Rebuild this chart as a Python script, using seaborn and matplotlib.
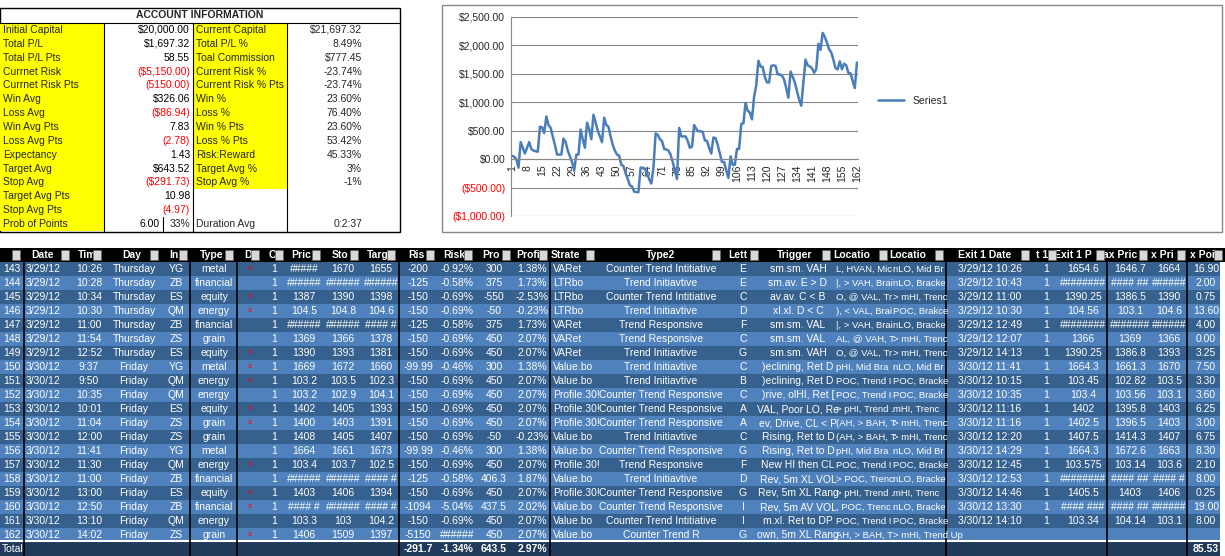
import matplotlib
matplotlib.use("Agg")
import matplotlib.pyplot as plt
import matplotlib.patches as mpatches
import matplotlib.ticker as mticker
import seaborn as sns
import pandas as pd

sns.set_style("white")
plt.rcParams['font.family'] = ['Liberation Sans', 'DejaVu Sans']

# ---- account information ----
left_labels = ["Initial Capital", "Total P/L", "Total P/L Pts", "Currnet Risk", "Currnet Risk Pts",
               "Win Avg", "Loss Avg", "Win Avg Pts", "Loss Avg Pts", "Expectancy", "Target Avg",
               "Stop Avg", "Target Avg Pts", "Stop Avg Pts", "Prob of Points"]
left_values = ["$20,000.00", "$1,697.32", "58.55", "($5,150.00)", "(5150.00)", "$326.06", "($86.94)",
               "7.83", "(2.78)", "1.43", "$643.52", "($291.73)", "10.98", "(4.97)", "6.00"]
right_labels = ["Current Capital", "Total P/L %", "Toal Commission", "Current Risk %", "Current Risk % Pts",
                "Win %", "Loss %", "Win % Pts", "Loss % Pts", "Risk:Reward", "Target Avg %", "Stop Avg %"]
right_values = ["$21,697.32", "8.49%", "$777.45", "-23.74%", "-23.74%", "23.60%", "76.40%", "23.60%",
                "53.42%", "45.33%", "3%", "-1%"]

# ---- equity curve (cumulative P/L per trade) ----
equity = [60, 40, 0, -150, 300, 200, 100, 200, 300, 180, 150, 140, 130, 570, 560, 460, 750, 600, 550, 400,
          250, 80, 80, 80, 360, 300, 150, 50, -50, -200, 80, 80, 520, 350, 200, 640, 530, 350, 780, 650,
          500, 400, 300, 730, 600, 570, 400, 250, 150, 80, 60, -100, -120, -250, -350, -460, -480, -570, -580, -580,
          -150, -150, -170, -250, -350, -430, -150, 450, 430, 350, 320, 180, 170, 150, 80, -50, -200, -350, 550, 400,
          400, 400, 320, 200, 220, 600, 530, 490, 490, 480, 330, 320, 200, 100, 380, 370, 250, 100, -50, -50,
          -200, -330, 50, -100, -100, 180, 180, 620, 630, 990, 850, 820, 700, 1100, 1300, 1730, 1630, 1620, 1450, 1350,
          1350, 1640, 1650, 1640, 1490, 1490, 1470, 1400, 1250, 1080, 1540, 1450, 1350, 1200, 1050, 940, 1350, 1750, 1650, 1630,
          1600, 1520, 1580, 2030, 1920, 2220, 2150, 2050, 1930, 1880, 1750, 1600, 1580, 1720, 1580, 1680, 1650, 1520, 1510, 1380,
          1250, 1700]

# ---- trade log ----
trade_no = list(range(143, 163))
dates = ["3/29/12"] * 7 + ["3/30/12"] * 13
times = ["10:26", "10:28", "10:34", "10:30", "11:00", "11:54", "12:52", "9:37", "9:50", "10:35", "10:01",
         "11:04", "12:00", "11:41", "11:30", "11:00", "13:00", "12:50", "13:10", "14:02"]
days = ["Thursday"] * 7 + ["Friday"] * 13
instr = ["YG", "ZB", "ES", "QM", "ZB", "ZS", "ES", "YG", "QM", "QM", "ES", "ZS", "ZS", "YG", "QM", "ZB", "ES", "ZB", "QM", "ZS"]
types = ["metal", "financial", "equity", "energy", "financial", "grain", "equity", "metal", "energy", "energy",
         "equity", "grain", "grain", "metal", "energy", "financial", "equity", "financial", "energy", "grain"]
direction = ["s", "", "s", "s", "", "", "s", "s", "s", "", "s", "s", "", "", "s", "", "s", "s", "", "s"]
price = ["#####", "######", "1387", "104.5", "######", "1369", "1390", "1669", "103.2", "103.2", "1402", "1400",
         "1408", "1664", "103.4", "######", "1403", "#### #", "103.3", "1406"]
stop = ["1670", "######", "1390", "104.8", "######", "1366", "1393", "1672", "103.5", "102.9", "1405", "1403",
        "1405", "1661", "103.7", "######", "1406", "######", "103", "1509"]
target = ["1655", "######", "1398", "104.6", "#### #", "1378", "1381", "1660", "102.3", "104.1", "1393", "1391",
          "1407", "1673", "102.5", "#### #", "1394", "#### #", "104.2", "1397"]
risk = ["-200", "-125", "-150", "-150", "-125", "-150", "-150", "-99.99", "-150", "-150", "-150", "-150", "-150",
        "-99.99", "-150", "-125", "-150", "-1094", "-150", "-5150"]
risk_pct = ["-0.92%", "-0.58%", "-0.69%", "-0.69%", "-0.58%", "-0.69%", "-0.69%", "-0.46%", "-0.69%", "-0.69%",
            "-0.69%", "-0.69%", "-0.69%", "-0.46%", "-0.69%", "-0.58%", "-0.69%", "-5.04%", "-0.69%", "######"]
profit = ["300", "375", "-550", "-50", "375", "450", "450", "300", "450", "450", "450", "450", "-50", "300",
          "450", "406.3", "450", "437.5", "450", "450"]
profit_pct = ["1.38%", "1.73%", "-2.53%", "-0.23%", "1.73%", "2.07%", "2.07%", "1.38%", "2.07%", "2.07%", "2.07%",
              "2.07%", "-0.23%", "1.38%", "2.07%", "1.87%", "2.07%", "2.02%", "2.07%", "2.07%"]
strategy = ["VARet", "LTRbo", "LTRbo", "LTRbo", "VARet", "VARet", "VARet", "Value.bo", "Value.bo", "Profile.30!",
            "Profile.30!", "Profile.30!", "Value.bo", "Value.bo", "Profile.30!", "Value.bo", "Profile.30!",
            "Value.bo", "Value.bo", "Value.bo"]
type2 = ["Counter Trend Intitiative", "Trend Initiavtive", "Counter Trend Intitiative", "Trend Initiavtive",
         "Trend Responsive", "Trend Responsive", "Trend Initiavtive", "Trend Initiavtive", "Trend Initiavtive",
         "Counter Trend Responsive", "Counter Trend Responsive", "Counter Trend Responsive", "Trend Initiavtive",
         "Counter Trend Responsive", "Trend Responsive", "Trend Initiavtive", "Counter Trend Responsive",
         "Counter Trend Responsive", "Counter Trend Intitiative", "Counter Trend R"]
letter = ["E", "E", "C", "D", "F", "C", "G", "C", "B", "C", "A", "A", "C", "G", "F", "D", "G", "I", "I", "G"]
trigger = ["sm.sm. VAH", "sm.av. E > D", "av.av. C < B", "xl.xl. D < C", "sm.sm. VAL", "sm.sm. VAL", "sm.sm. VAH",
           ")eclining, Ret D", ")eclining, Ret D", ")rive, olHI, Ret [", "VAL, Poor LO, Re", "ev, Drive, CL < P",
           "Rising, Ret to D", "Rising, Ret to D", "New HI then CL", "Rev, 5m XL VOL", "Rev, 5m XL Rang",
           "Rev, 5m AV VOL", "m.xl. Ret to DP", "own, 5m XL Rang"]
location1 = ["L, HVAN, Mic", "|, > VAH, Brai", "O, @ VAL, Tr", "), < VAL, Brai", "|, > VAH, Brai", "AL, @ VAH, T",
             "O, @ VAL, Tr", "pHI, Mid Bra", "POC, Trend I", "POC, Trend I", "> pHI, Trend .", "(AH, > BAH, T",
             "(AH, > BAH, T", "pHI, Mid Bra", "POC, Trend I", "> POC, Trenc", "> pHI, Trend .", ", POC, Trenc",
             "POC, Trend I", "AH, > BAH, T"]
location2 = ["nLO, Mid Br", "nLO, Bracke", "> mHI, Trenc", "POC, Brakce", "nLO, Bracke", "> mHI, Trenc",
             "> mHI, Trenc", "nLO, Mid Br", "POC, Bracke", "POC, Bracke", "mHI, Trenc", "> mHI, Trenc",
             "> mHI, Trenc", "nLO, Mid Br", "POC, Bracke", "nLO, Bracke", "mHI, Trenc", "nLO, Bracke",
             "POC, Bracke", "> mHI, Trend Up"]
exit_date = ["3/29/12 10:26", "3/29/12 10:43", "3/29/12 11:00", "3/29/12 10:30", "3/29/12 12:49", "3/29/12 12:07",
             "3/29/12 14:13", "3/30/12 11:41", "3/30/12 10:15", "3/30/12 10:35", "3/30/12 11:16", "3/30/12 11:16",
             "3/30/12 12:20", "3/30/12 14:29", "3/30/12 12:45", "3/30/12 12:53", "3/30/12 14:46", "3/30/12 13:30",
             "3/30/12 14:10", ""]
exit_price = ["1654.6", "########", "1390.25", "104.56", "########", "1366", "1390.25", "1664.3", "103.45", "103.4",
              "1402", "1402.5", "1407.5", "1664.3", "103.575", "########", "1405.5", "#### ###", "103.34", ""]
max_price = ["1646.7", "#### ##", "1386.5", "103.1", "#######", "1369", "1386.8", "1661.3", "102.82", "103.56",
             "1395.8", "1396.5", "1414.3", "1672.6", "103.14", "#### ##", "1403", "#### ##", "104.14", ""]
x_price = ["1664", "######", "1390", "104.6", "######", "1366", "1393", "1670", "103.5", "103.1", "1403", "1403",
           "1407", "1663", "103.6", "#### #", "1406", "######", "103.1", ""]
points = ["16.90", "2.00", "0.75", "13.60", "4.00", "0.00", "3.25", "7.50", "3.30", "3.60", "6.25", "3.00", "6.75",
          "8.30", "2.10", "8.00", "0.25", "19.00", "8.00", ""]
headers = [(43, "Date"), (87, "Tim"), (132, "Day"), (174, "In"), (212, "Type"), (248, "D"), (272, "C"),
           (301, "Pric"), (340, "Sto"), (378, "Targ"), (416, "Ris"), (454, "Risk"), (491, "Pro"), (528, "Profi"),
           (565, "Strate"), (661, "Type2"), (738, "Lett"), (795, "Trigger"), (852, "Locatio"), (908, "Locatio"),
           (985, "Exit 1 Date"), (1042, "t 1"), (1073, "Exit 1 P"), (1120, "ax Pric"), (1162, "x Pri"), (1202, "x Poi")]
buttons = [16, 65, 97, 154, 183, 229, 255, 279, 316, 354, 391, 430, 468, 506, 543, 590,
           716, 754, 826, 883, 939, 1025, 1052, 1100, 1143, 1181, 1218]

W, H = 1225, 556
fig = plt.figure(figsize=(W / 100, H / 100), dpi=100)
bg = fig.add_axes([0, 0, 1, 1])
bg.set_xlim(0, W)
bg.set_ylim(H, 0)
bg.axis("off")

FS = 7.5
YELLOW = "#FFFF00"

# account information block
bg.add_patch(mpatches.Rectangle((0, 8), 400, 224, fc="white", ec="black", lw=1))
bg.text(200, 15, "ACCOUNT INFORMATION", ha="center", va="center", fontsize=FS, fontweight="bold")
row_h = 13.86
for i in range(15):
    yc = 30 + i * row_h
    bg.add_patch(mpatches.Rectangle((0, yc - row_h / 2), 104, row_h, fc=YELLOW, ec="none"))
    bg.text(3, yc, left_labels[i], ha="left", va="center", fontsize=FS)
    col = "red" if left_values[i].startswith("(") else "black"
    x_val = 160 if i == 14 else 190
    bg.text(x_val, yc, left_values[i], ha="right", va="center", fontsize=FS, color=col)
    if i < len(right_labels):
        bg.add_patch(mpatches.Rectangle((193, yc - row_h / 2), 94, row_h, fc=YELLOW, ec="none"))
        bg.text(196, yc, right_labels[i], ha="left", va="center", fontsize=FS)
        bg.text(362, yc, right_values[i], ha="right", va="center", fontsize=FS)
yl = 30 + 14 * row_h
bg.text(190, yl, "33%", ha="right", va="center", fontsize=FS)
bg.plot([163, 163], [yl - row_h / 2, yl + row_h / 2], color="black", lw=0.8)
bg.text(196, yl, "Duration Avg", ha="left", va="center", fontsize=FS)
bg.text(362, yl, "0:2:37", ha="right", va="center", fontsize=FS)
for xv in (104, 193, 287):
    bg.plot([xv, xv], [23, 232], color="black", lw=0.8)
bg.plot([0, 400], [23, 23], color="black", lw=0.8)

# chart frame
bg.add_patch(mpatches.Rectangle((442, 5), 780, 227, fc="white", ec="#888888", lw=1))

# trade log
DARK, LIGHT, TOTAL = "#36608E", "#4F81BD", "#1F3A5A"
bg.add_patch(mpatches.Rectangle((0, 248), W, 14, fc="black", ec="none"))
for xh, lab in headers:
    bg.text(xh, 255, lab, ha="center", va="center", fontsize=FS, color="white", fontweight="bold")
for xb in buttons:
    bg.add_patch(mpatches.Rectangle((xb - 4, 250), 8, 10, fc="#D8D8D8", ec="#666666", lw=0.5, zorder=3))
for i in range(20):
    yc = 269 + i * 14
    bg.add_patch(mpatches.Rectangle((0, yc - 7), W - 5, 14, fc=DARK if i % 2 == 0 else LIGHT, ec="none"))
    cells = [(12, trade_no[i]), (43, dates[i]), (89, times[i]), (134, days[i]), (176, instr[i]), (214, types[i]),
             (274, "1"), (304, price[i]), (343, stop[i]), (381, target[i]), (418, risk[i]), (457, risk_pct[i]),
             (494, profit[i]), (532, profit_pct[i]), (661, type2[i]), (743, letter[i]), (798, trigger[i]),
             (990, exit_date[i]), (1083, exit_price[i]),
             (1130, max_price[i]), (1169, x_price[i]), (1206, points[i])]
    for xc, txt in cells:
        bg.text(xc, yc, str(txt), ha="center", va="center", fontsize=FS, color="white")
    bg.text(553, yc, strategy[i], ha="left", va="center", fontsize=FS, color="white")
    bg.text(836, yc, location1[i], ha="left", va="center", fontsize=6.8, color="white")
    bg.text(893, yc, location2[i], ha="left", va="center", fontsize=6.8, color="white")
    if exit_date[i]:
        bg.text(1046, yc, "1", ha="center", va="center", fontsize=FS, color="white")
    if direction[i]:
        bg.text(250, yc, direction[i], ha="center", va="center", fontsize=5.5, color="red")
bg.add_patch(mpatches.Rectangle((0, 541), W - 5, 15, fc=TOTAL, ec="none"))
bg.plot([0, W - 5], [541, 541], color="white", lw=1.5)
bg.text(2, 549, "Total", ha="left", va="center", fontsize=FS, color="white")
for xc, txt in [(418, "-291.7"), (457, "-1.34%"), (494, "643.5"), (532, "2.97%"), (1206, "85.53")]:
    bg.text(xc, 549, txt, ha="center", va="center", fontsize=FS, color="white", fontweight="bold")
for xv in (24, 190, 237, 399, 550, 946, 1107, 1187):
    bg.plot([xv, xv], [262, 556], color="black", lw=1.2)

# equity chart
ax = fig.add_axes([511 / W, (H - 216) / H, 347 / W, 199 / H])
ax.patch.set_alpha(0)
df = pd.DataFrame({"trade": range(1, len(equity) + 1), "equity": equity})
sns.lineplot(data=df, x="trade", y="equity", ax=ax, color="#4A7EBB", lw=1.8, label="Series1")
ax.set_ylim(-1000, 2500)
ax.set_xlim(0.5, len(equity) + 0.5)
ax.set_yticks(range(-1000, 2501, 500))
ax.yaxis.set_major_formatter(mticker.FuncFormatter(
    lambda v, p: f"(${abs(v):,.2f})" if v < 0 else f"${v:,.2f}"))
for t in ax.get_yticklabels():
    t.set_fontsize(7.5)
    if t.get_text().startswith("("):
        t.set_color("red")
ax.grid(axis="y", color="#888888", lw=0.8)
ax.set_xticks(range(1, len(equity) + 1, 7))
ax.set_xticks(range(1, len(equity) + 1), minor=True)
ax.tick_params(axis="x", which="both", direction="out", length=3, labelsize=7.5, labelrotation=90, pad=1)
ax.tick_params(axis="y", length=0, pad=4)
for s in ("top", "right"):
    ax.spines[s].set_visible(False)
ax.spines["bottom"].set_position(("data", 0))
ax.spines["bottom"].set_color("#888888")
ax.spines["left"].set_color("#888888")
ax.set_xlabel("")
ax.set_ylabel("")
ax.legend(loc="center left", bbox_to_anchor=(1.03, 0.58), frameon=False, fontsize=7.5, handlelength=2.5)

fig.savefig("out.png", dpi=100)
